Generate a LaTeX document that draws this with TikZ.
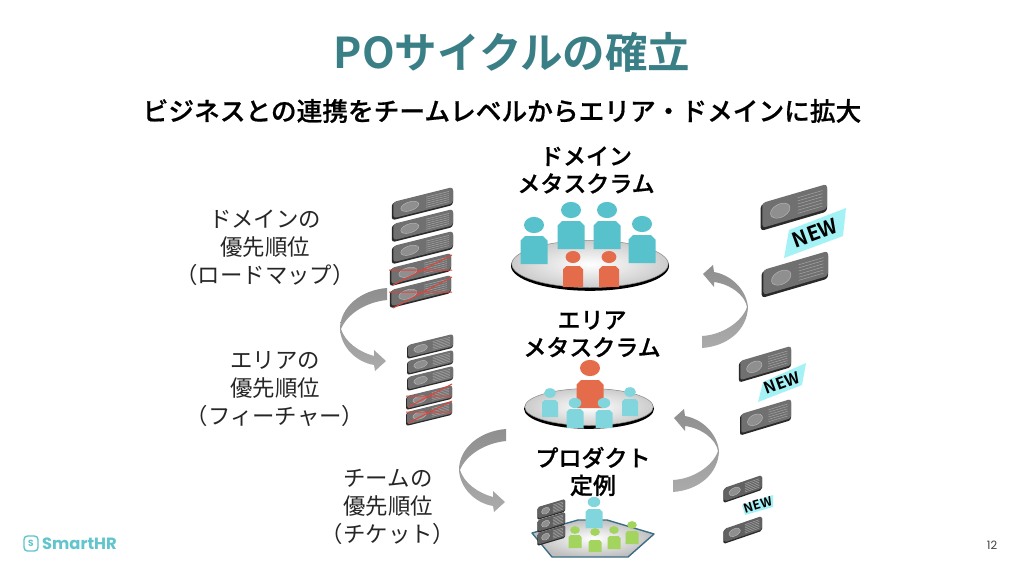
\documentclass[tikz,border=0pt]{standalone}
\usepackage{fontspec}
\setmainfont[BoldFont={Noto Sans CJK JP Medium},BoldFeatures={FakeBold=0.6}]{Noto Sans CJK JP}
\newfontfamily\heavyfont[BoldFont={Noto Sans CJK JP Bold}]{Noto Sans CJK JP}
\newfontfamily\latinbold{Poppins}
\usetikzlibrary{shadings}
\definecolor{titleteal}{HTML}{3A7E86}
\definecolor{logoteal}{HTML}{62C4CC}
\definecolor{peopleblue}{HTML}{58C2CC}
\definecolor{paleblue}{HTML}{80D6DC}
\definecolor{peopleorange}{HTML}{E46C4A}
\definecolor{peoplegreen}{HTML}{A2D45E}
\definecolor{newband}{HTML}{A4F2F6}
\definecolor{crossred}{HTML}{E2443C}
\definecolor{cardface}{HTML}{707070}
\definecolor{carddark}{HTML}{2A2A2A}
\definecolor{hexedge}{HTML}{3B6E85}
\tikzset{
  titletext/.style={font=\heavyfont\bfseries\fontsize{42.5}{48}\selectfont,text=titleteal,inner sep=0pt},
  subtext/.style={font=\bfseries\fontsize{25.7}{30}\selectfont,inner sep=0pt},
  headtext/.style={font=\bfseries\fontsize{23}{27.5}\selectfont,align=center,inner sep=0pt},
  sidetext/.style={font=\fontsize{22.4}{27.7}\selectfont,align=center,inner sep=0pt,text=black!85},
  ribbon/.style={top color=black!44,bottom color=black!33,draw=none},
  band/.style={fill=newband,draw=none},
  crossline/.style={draw=crossred,line width=1pt},
}
% card: left-top x,y, width, height, rise
\newcommand{\cardshape}[5]{%
  \begin{scope}[shift={(#1,#2)},x={(#3pt,#5pt)},y={(0pt,-#4pt)}]
    \fill[carddark,rounded corners=#3*0.05pt] (-0.02,0.05) -- (1,0.05) -- (1,1.06) -- (-0.02,1.06) -- cycle;
    \fill[cardface,rounded corners=#3*0.05pt] (0.005,0) -- (1,0) -- (1,0.96) -- (0.005,0.96) -- cycle;
    \fill[black!44,draw=black!26,line width=0.4pt] (0.28,0.5) ellipse [x radius=0.15,y radius=0.27];
    \foreach \yy in {0.2,0.32,0.44,0.56,0.68,0.8}
      \draw[black!34,line width=0.45pt] (0.55,\yy) -- (0.93,\yy);
  \end{scope}}
% person: centre x, head centre y, body width, body top, body bottom, colour
\newcommand{\personshape}[6]{%
  \fill[#6] (#1,#2) ellipse [x radius=0.37*#3,y radius=0.3*#3];
  \fill[#6] ({#1-0.5*#3},#5) -- ({#1-0.5*#3},{#4+0.17*#3}) -- ({#1-0.33*#3},#4) -- ({#1+0.33*#3},#4) -- ({#1+0.5*#3},{#4+0.17*#3}) -- ({#1+0.5*#3},#5) -- cycle;}
% table: centre, rx, ry
\newcommand{\tableshape}[4]{%
  \fill[black] (#1,{#2+0.8}) ellipse [x radius=#3,y radius=#4];
  \shade[inner color=white,outer color=black!20,draw=black!45,line width=0.5pt] (#1,{#2-1}) ellipse [x radius={#3-0.8},y radius={#4-1.5}];}
\begin{document}
\begin{tikzpicture}[x=1pt,y=-1pt]
\useasboundingbox (0,0) rectangle (1024,573);
\fill[white] (0,0) rectangle (1024,573);

% titles
\node[titletext] (title) at (512,52) {POサイクルの確立};
\node[subtext] (subtitle) at (502,111) {ビジネスとの連携をチームレベルからエリア・ドメインに拡大};

% centre headings
\node[headtext] (domainhead) at (586,170) {ドメイン\\メタスクラム};
\node[headtext] (areahead) at (592,334) {エリア\\メタスクラム};
\node[headtext] (producthead) at (593,471.5) {プロダクト\\定例};

% side labels
\node[sidetext] (domainlabel) at (265,248) {ドメインの\\優先順位\\（ロードマップ）};
\node[sidetext] (arealabel) at (275,389) {エリアの\\優先順位\\（フィーチャー）};
\node[sidetext] (teamlabel) at (388,507) {チームの\\優先順位\\（チケット）};

% domain stack
\cardshape{393}{202}{60}{17}{15}
\cardshape{393}{224}{60}{17}{15}
\cardshape{393}{246}{60}{17}{15}
\cardshape{391}{268}{60}{17}{15}
\cardshape{391}{290}{60}{17}{15}
\draw[crossline] (389,270) -- (452,270) (393,285) -- (452,255);
\draw[crossline] (389,292) -- (452,292) (393,308) -- (452,277);

% area stack
\cardshape{408}{345}{45}{13}{11}
\cardshape{408}{361}{45}{13}{11}
\cardshape{408}{377}{45}{13}{11}
\cardshape{407}{396}{45}{13}{11}
\cardshape{407}{412}{45}{13}{11}
\draw[crossline] (406,396) -- (452,396) (408,407) -- (452,384);
\draw[crossline] (406,412) -- (452,412) (408,423) -- (452,401);

% domain table
\tableshape{590}{265}{79}{25}
\personshape{534}{225}{27}{236}{264}{peopleblue}
\personshape{571}{210}{27}{221}{249}{peopleblue}
\personshape{607}{210}{27}{221}{249}{peopleblue}
\personshape{642}{224}{27}{235}{263}{peopleblue}
\personshape{573}{257}{20}{266}{287}{peopleorange}
\personshape{609}{257}{20}{266}{287}{peopleorange}

% area table
\tableshape{589}{408}{65}{20}
\personshape{590}{368}{27}{380}{408}{peopleorange}
\personshape{550}{393}{16}{400}{417}{paleblue}
\personshape{630}{392}{16}{399}{416}{paleblue}
\personshape{575}{403}{17}{409}{428}{paleblue}
\personshape{604}{403}{17}{410}{428}{paleblue}

% product table
\shade[inner color=white,outer color=black!25,draw=hexedge,line width=1.4pt,line join=round]
  (532,533) -- (578,520) -- (607,520) -- (654,534) -- (628,557) -- (552,557) -- cycle;
\personshape{594}{502}{17}{509}{528}{paleblue}
\personshape{575}{530}{13}{535}{548}{peoplegreen}
\personshape{595}{532}{13}{540}{552}{peoplegreen}
\personshape{614}{530}{13}{536}{549}{peoplegreen}
\personshape{632}{525}{13}{531}{544}{peoplegreen}
\begin{scope}
\colorlet{cardface}{black!62}
\cardshape{538}{507}{27}{12}{8}
\cardshape{538}{520}{27}{12}{8}
\cardshape{538}{533}{27}{12}{8}
\end{scope}

% NEW cards, large
\cardshape{762}{203}{65}{26}{19}
\cardshape{763}{270}{65}{26}{19}
\fill[band] (789,230) -- (846,208) -- (843,236) -- (784,258) -- cycle;
\node[inner sep=0pt,font=\heavyfont\bfseries\fontsize{20.5}{22}\selectfont,rotate=20] (newa) at (815,233) {NEW};

% NEW cards, middle
\cardshape{740}{361}{51}{20}{15}
\cardshape{741}{414}{50}{20}{15}
\fill[band] (763,382) -- (806,363) -- (802,385) -- (758,402) -- cycle;
\node[inner sep=0pt,font=\heavyfont\bfseries\fontsize{16}{17}\selectfont,rotate=20] (newb) at (782,383) {NEW};

% NEW cards, small
\begin{scope}
\colorlet{cardface}{black!62}
\cardshape{724}{488}{38}{14}{13}
\cardshape{724}{529}{38}{14}{13}
\end{scope}
\fill[band] (742,505) -- (773,495) -- (773,507) -- (745,515) -- cycle;
\node[inner sep=0pt,font=\heavyfont\bfseries\fontsize{12.5}{13}\selectfont,rotate=17] (newc) at (758,505) {NEW};

% left ribbons
\begin{scope}[shift={(-119,-141)}]
\shade[ribbon] (506,429) .. controls (480,431) and (459,448) .. (459,470) .. controls (460,488) and (475,503) .. (493,506) -- (494,512) -- (505,502) -- (493,491) -- (493,497) .. controls (478,493) and (464,483) .. (460,470) .. controls (466,455) and (485,443) .. (506,441) -- cycle;
\end{scope}
\shade[ribbon] (506,429) .. controls (480,431) and (459,448) .. (459,470) .. controls (460,488) and (475,503) .. (493,506) -- (494,512) -- (505,502) -- (493,491) -- (493,497) .. controls (478,493) and (464,483) .. (460,470) .. controls (466,455) and (485,443) .. (506,441) -- cycle;

% right ribbons
\shade[ribbon] (702,348) .. controls (728,346) and (747,330) .. (748,307) .. controls (746,289) and (731,275) .. (714,272) -- (713,265) -- (703,274) -- (714,287) -- (714,282) .. controls (730,284) and (745,295) .. (747,307) .. controls (742,322) and (722,335) .. (702,336) -- cycle;
\begin{scope}[shift={(-29,144)}]
\shade[ribbon] (702,348) .. controls (728,346) and (747,330) .. (748,307) .. controls (746,289) and (731,275) .. (714,272) -- (713,265) -- (703,274) -- (714,287) -- (714,282) .. controls (730,284) and (745,295) .. (747,307) .. controls (742,322) and (722,335) .. (702,336) -- cycle;
\end{scope}

% logo
\draw[logoteal,line width=1.4pt,rounded corners=3.5pt] (24,536) rectangle (38,551);
\node[inner sep=0pt,text=logoteal,font=\latinbold\bfseries\fontsize{9}{10}\selectfont] (logos) at (31,543.5) {S};
\node[anchor=west,inner sep=0pt,text=logoteal,font=\latinbold\bfseries\fontsize{16.3}{18}\selectfont] (logotext) at (42,544) {SmartHR};

% page number
\node[inner sep=0pt,text=black!75,font=\latinbold\fontsize{11.5}{13}\selectfont] (pageno) at (992,545) {12};
\end{tikzpicture}
\end{document}
